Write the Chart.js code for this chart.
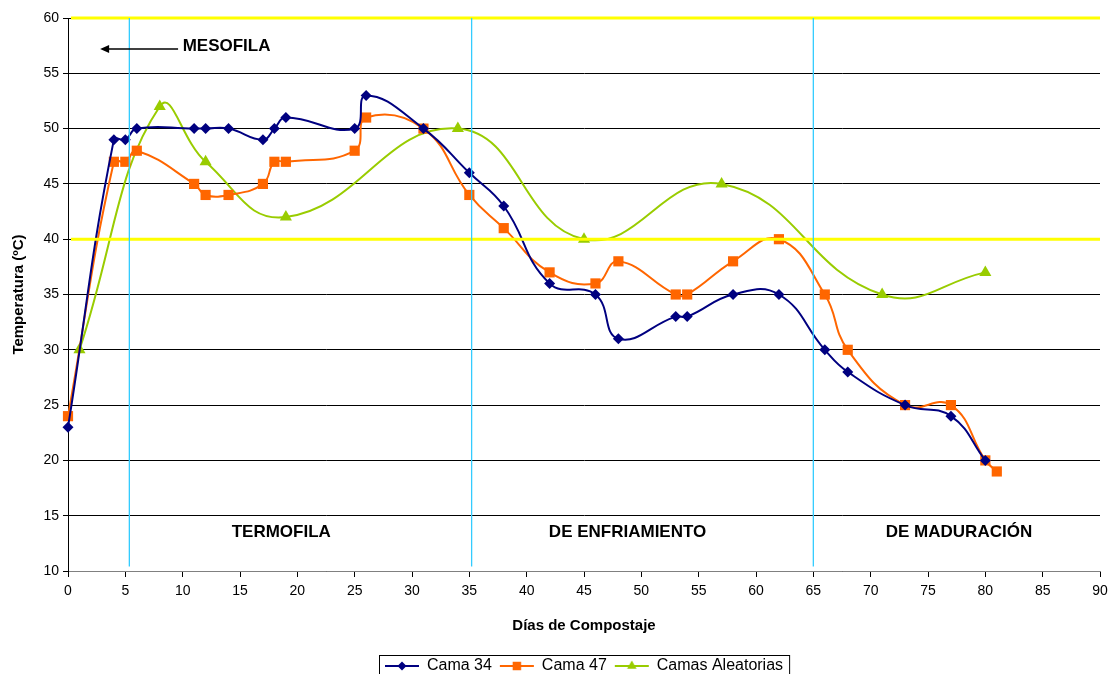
<!DOCTYPE html>
<html>
<head>
<meta charset="utf-8">
<script src="https://cdn.jsdelivr.net/npm/chart.js@4.4.0/dist/chart.umd.min.js"></script>
<style>
  body { margin: 0; background: #fff; }
  #wrap { width: 1110px; height: 674px; }
</style>
</head>
<body>
<div id="wrap"><canvas id="myChart" width="1110" height="674"></canvas></div>
<script>
// datos
const daysCama34 = [0, 4, 5, 6, 11, 12, 14, 17, 18, 19, 25, 26, 31, 35, 38, 42, 46, 48, 53, 54, 58, 62, 66, 68, 73, 77, 80];
const tempCama34 = [23, 49, 49, 50, 50, 50, 50, 49, 50, 51, 50, 53, 50, 46, 43, 36, 35, 31, 33, 33, 35, 35, 30, 28, 25, 24, 20];
const daysCama47 = [0, 4, 5, 6, 11, 12, 14, 17, 18, 19, 25, 26, 31, 35, 38, 42, 46, 48, 53, 54, 58, 62, 66, 68, 73, 77, 80, 81];
const tempCama47 = [24, 47, 47, 48, 45, 44, 44, 45, 47, 47, 48, 51, 50, 44, 41, 37, 36, 38, 35, 35, 38, 40, 35, 30, 25, 25, 20, 19];
const daysAleatorias = [1, 8, 12, 19, 34, 45, 57, 71, 80];
const tempAleatorias = [30, 52, 47, 42, 50, 40, 45, 35, 37];

const seriesNames = ['Cama 34', 'Cama 47', 'Camas Aleatorias'];
const thresholdTemps = [60, 40];
const phaseLineDays = [5.35, 35.2, 65];
const phaseLabels = ['TERMOFILA', 'DE ENFRIAMIENTO', 'DE MADURACIÓN'];
const phaseLabelDays = [18.6, 48.8, 77.7];
const phaseLabelTemp = 13.5;
const mesofilaLabel = 'MESOFILA';

const COLORS = {
    navy: '#000080',
    orange: '#FF6600',
    green: '#99CC00',
    yellow: '#FFFF00',
    cyan: '#33CCFF'
};
const FONT = '"Liberation Sans", Arial, sans-serif';

function toPoints(xs, ys) {
    return xs.map((d, i) => ({ x: d, y: ys[i] }));
}

// icono de leyenda: linea con marcador
function makeIcon(color, style, radius) {
    const c = document.createElement('canvas');
    c.width = 36;
    c.height = 14;
    const g = c.getContext('2d');
    g.strokeStyle = color;
    g.lineWidth = 2;
    g.beginPath();
    g.moveTo(1, 7);
    g.lineTo(35, 7);
    g.stroke();
    g.fillStyle = color;
    Chart.helpers.drawPoint(g, { pointStyle: style, radius: radius, rotation: 0, borderWidth: 0 }, 18, 7);
    return c;
}
const legendIcons = [
    makeIcon(COLORS.navy, 'rectRot', 4.5),
    makeIcon(COLORS.orange, 'rect', 6),
    makeIcon(COLORS.green, 'triangle', 5.5)
];

function serie(label, pts, color, style, radius) {
    return {
        label: label,
        data: pts,
        showLine: true,
        borderColor: color,
        backgroundColor: color,
        borderWidth: 2,
        pointStyle: style,
        pointRadius: radius,
        pointHoverRadius: radius,
        pointBorderWidth: 0,
        tension: 0.45,
        clip: false
    };
}

const phasePlugin = {
    id: 'phases',
    afterDatasetsDraw(chart) {
        const { ctx, scales: { x, y } } = chart;
        ctx.save();
        // lineas amarillas
        ctx.strokeStyle = COLORS.yellow;
        ctx.lineWidth = 3;
        thresholdTemps.forEach(t => {
            const py = y.getPixelForValue(t);
            ctx.beginPath();
            ctx.moveTo(x.left + 3, py);
            ctx.lineTo(x.right, py);
            ctx.stroke();
        });
        // lineas de fase
        ctx.strokeStyle = COLORS.cyan;
        ctx.lineWidth = 1.3;
        phaseLineDays.forEach(d => {
            const px = x.getPixelForValue(d);
            ctx.beginPath();
            ctx.moveTo(px, y.getPixelForValue(60));
            ctx.lineTo(px, y.getPixelForValue(10.4));
            ctx.stroke();
        });
        // textos
        ctx.fillStyle = '#000';
        ctx.font = 'bold 17px ' + FONT;
        ctx.textAlign = 'center';
        ctx.textBaseline = 'middle';
        phaseLabels.forEach((t, i) => {
            ctx.fillText(t, x.getPixelForValue(phaseLabelDays[i]), y.getPixelForValue(phaseLabelTemp));
        });
        ctx.textAlign = 'left';
        ctx.fillText(mesofilaLabel, x.getPixelForValue(10), y.getPixelForValue(57.4));
        // flecha
        const ay = y.getPixelForValue(57.2);
        const ax0 = x.getPixelForValue(2.8);
        const ax1 = x.getPixelForValue(9.6);
        ctx.strokeStyle = '#000';
        ctx.lineWidth = 1.5;
        ctx.beginPath();
        ctx.moveTo(ax0 + 6, ay);
        ctx.lineTo(ax1, ay);
        ctx.stroke();
        ctx.beginPath();
        ctx.moveTo(ax0, ay);
        ctx.lineTo(ax0 + 9, ay - 4);
        ctx.lineTo(ax0 + 9, ay + 4);
        ctx.closePath();
        ctx.fill();
        ctx.restore();
    },
    afterDraw(chart) {
        // marco de la leyenda
        const boxes = chart.legend.legendHitBoxes;
        if (!boxes || !boxes.length) return;
        const left = Math.min(...boxes.map(b => b.left)) - 6;
        const right = Math.max(...boxes.map(b => b.left + b.width)) + 6;
        const top = boxes[0].top - 3;
        const ctx = chart.ctx;
        ctx.save();
        ctx.strokeStyle = '#000';
        ctx.lineWidth = 1;
        ctx.strokeRect(Math.round(left) + 0.5, Math.round(top) + 0.5, right - left, 40);
        ctx.restore();
    }
};

const data = {
    datasets: [
        serie(seriesNames[0], toPoints(daysCama34, tempCama34), COLORS.navy, 'rectRot', 5.5),
        serie(seriesNames[1], toPoints(daysCama47, tempCama47), COLORS.orange, 'rect', 7.2),
        serie(seriesNames[2], toPoints(daysAleatorias, tempAleatorias), COLORS.green, 'triangle', 7)
    ]
};

const config = {
    type: 'scatter',
    data: data,
    options: {
        responsive: false,
        devicePixelRatio: 1,
        animation: false,
        layout: { padding: { top: 18, right: 2, left: 10, bottom: -10 } },
        plugins: {
            tooltip: { enabled: false },
            legend: {
                position: 'bottom',
                fullSize: false,
                labels: {
                    usePointStyle: true,
                    pointStyleWidth: 34,
                    padding: 8,
                    color: '#000',
                    font: { family: FONT, size: 16 },
                    generateLabels: chart => Chart.defaults.plugins.legend.labels.generateLabels(chart)
                        .map((l, i) => Object.assign(l, { pointStyle: legendIcons[i] }))
                }
            }
        },
        scales: {
            x: {
                type: 'linear',
                min: 0,
                max: 90,
                ticks: { stepSize: 5, color: '#000', font: { family: FONT, size: 14 }, padding: 6, maxRotation: 0 },
                grid: { drawOnChartArea: false, drawTicks: true, tickLength: 6, color: '#000' },
                border: { color: '#808080', width: 1 },
                title: { display: true, text: 'Días de Compostaje', color: '#000', font: { family: FONT, size: 15, weight: 'bold' }, padding: { top: 8, bottom: 15 } },
                afterFit: s => { s.height = 79; s.paddingRight = 10; s.paddingLeft = 4; }
            },
            y: {
                type: 'linear',
                min: 10,
                max: 60,
                ticks: { stepSize: 5, color: '#000', font: { family: FONT, size: 14 }, padding: 4 },
                grid: { color: '#000', lineWidth: 1, tickLength: 5 },
                border: { color: '#000', width: 1 },
                title: { display: true, text: 'Temperatura (ºC)', color: '#000', font: { family: FONT, size: 15, weight: 'bold' }, padding: 0 },
                afterFit: s => { s.width = 58; }
            }
        }
    },
    plugins: [phasePlugin]
};

const myChart = new Chart(document.getElementById('myChart'), config);
</script>
</body>
</html>
